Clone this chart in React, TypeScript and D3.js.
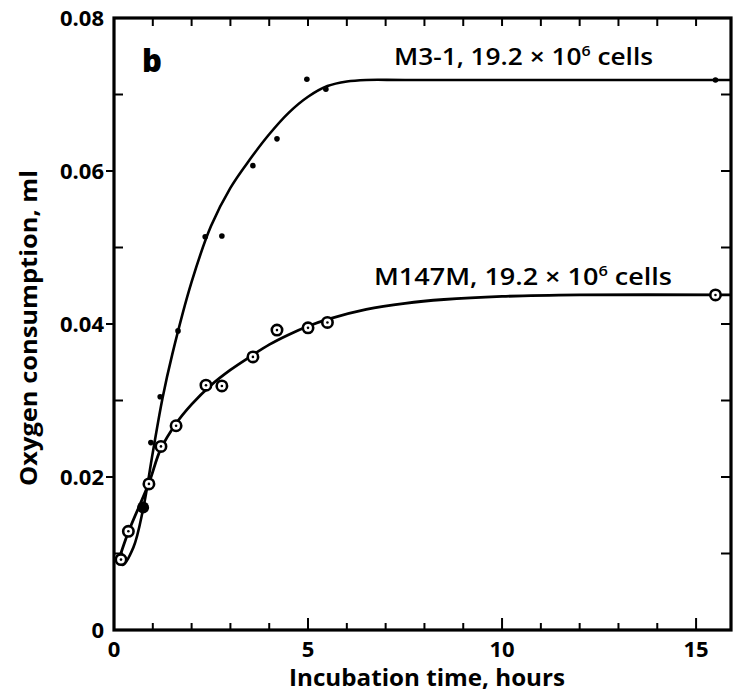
import React from "react";
import * as d3 from "d3";

// Observed data points (hours, ml)
const m31Hours = [0.2, 0.75, 0.95, 1.19, 1.65, 2.35, 2.78, 3.58, 4.2, 4.97, 5.46, 15.5];
const m31Values = [0.0088, 0.0160, 0.0245, 0.0305, 0.0391, 0.0514, 0.0515, 0.0607, 0.0642, 0.0720, 0.0707, 0.0719];

const m147Hours = [0.18, 0.37, 0.9, 1.21, 1.6, 2.37, 2.78, 3.58, 4.2, 5.0, 5.5, 15.5];
const m147Values = [0.0092, 0.0129, 0.0191, 0.0240, 0.0267, 0.0320, 0.0319, 0.0357, 0.0392, 0.0395, 0.0402, 0.0438];

// Hand-drawn fitted curves
const m31CurveHours = [0.08, 0.22, 0.5, 0.75, 1.0, 1.25, 1.5, 2.0, 2.5, 3.0, 3.5, 4.0, 4.5, 5.0, 5.5, 6.0, 6.5, 7.5, 15.9];
const m31CurveValues = [0.0098, 0.0085, 0.0108, 0.0158, 0.0232, 0.0303, 0.0360, 0.0455, 0.0528, 0.0578, 0.0615, 0.0648, 0.0676, 0.0697, 0.0711, 0.0717, 0.0719, 0.0719, 0.0719];

const m147CurveHours = [0.1, 0.37, 0.9, 1.2, 1.6, 2.0, 2.5, 3.0, 3.5, 4.0, 4.5, 5.0, 5.5, 6.5, 7.5, 8.5, 10, 12, 15.9];
const m147CurveValues = [0.0088, 0.0128, 0.0192, 0.0236, 0.0270, 0.0295, 0.0320, 0.0340, 0.0357, 0.0373, 0.0386, 0.0397, 0.0406, 0.0419, 0.0427, 0.0432, 0.0436, 0.0438, 0.0438];

const xTickLabels = [0, 5, 10, 15];
const yTickLabels = [0, 0.02, 0.04, 0.06, 0.08];
const xMinorTicks = d3.range(0, 16, 1);
const yMinorTicks = [0.01, 0.02, 0.03, 0.04, 0.05, 0.06, 0.07];

const FONT = "'Open Sans', 'DejaVu Sans', sans-serif";

export default function App() {
  const left = 114, right = 731, top = 18, bottom = 630;
  const x = d3.scaleLinear().domain([0, 15.9]).range([left, right]);
  const y = d3.scaleLinear().domain([0, 0.08]).range([bottom, top]);

  const line = d3
    .line<[number, number]>()
    .x((d) => x(d[0]))
    .y((d) => y(d[1]))
    .curve(d3.curveCatmullRom.alpha(0.5));

  const m31Curve = line(m31CurveHours.map((h, i) => [h, m31CurveValues[i]]) as [number, number][]) || "";
  const m147Curve = line(m147CurveHours.map((h, i) => [h, m147CurveValues[i]]) as [number, number][]) || "";

  const fmtY = (v: number) => (v === 0 ? "0" : v.toFixed(2));

  return (
    <svg
      width={736}
      height={696}
      style={{ position: "absolute", left: 0, top: 0, background: "#fff" }}
    >
      <rect x={0} y={0} width={736} height={696} fill="#fff" />
      {/* curves */}
      <path d={m31Curve} fill="none" stroke="#000" strokeWidth={2.6} />
      <path d={m147Curve} fill="none" stroke="#000" strokeWidth={2.8} />

      {/* frame */}
      <rect
        x={left}
        y={top}
        width={right - left}
        height={bottom - top}
        fill="none"
        stroke="#000"
        strokeWidth={3.2}
      />

      {/* top and bottom ticks */}
      {xMinorTicks.map((t) => (
        <g key={"xt" + t}>
          <line x1={x(t)} x2={x(t)} y1={top} y2={top + 8} stroke="#000" strokeWidth={2} />
          {t > 0 && (
            <line
              x1={x(t)}
              x2={x(t)}
              y1={bottom}
              y2={bottom - (t % 5 === 0 ? 12 : 7)}
              stroke="#000"
              strokeWidth={2}
            />
          )}
        </g>
      ))}

      {/* left and right ticks */}
      {yMinorTicks.map((v) => {
        const major = Math.abs((v * 100) % 2) < 1e-6;
        return (
          <g key={"yt" + v}>
            {major ? (
              <line x1={left - 8} x2={left} y1={y(v)} y2={y(v)} stroke="#000" strokeWidth={2} />
            ) : (
              <line x1={left} x2={left + 9} y1={y(v)} y2={y(v)} stroke="#000" strokeWidth={2} />
            )}
            <line x1={right - 10} x2={right} y1={y(v)} y2={y(v)} stroke="#000" strokeWidth={2} />
          </g>
        );
      })}

      {/* y tick labels */}
      {yTickLabels.map((v) => (
        <text
          key={"yl" + v}
          x={left - 10}
          y={y(v) + 8}
          textAnchor="end"
          fontFamily={FONT}
          fontWeight={700}
          fontSize={22}
          fill="#000"
        >
          {fmtY(v)}
        </text>
      ))}

      {/* x tick labels */}
      {xTickLabels.map((t) => (
        <text
          key={"xl" + t}
          x={x(t)}
          y={657}
          textAnchor="middle"
          fontFamily={FONT}
          fontWeight={700}
          fontSize={22}
          fill="#000"
        >
          {t}
        </text>
      ))}

      {/* axis titles */}
      <text
        x={427}
        y={686}
        textAnchor="middle"
        fontFamily={FONT}
        fontWeight={700}
        fontSize={23}
        fill="#000"
        textLength={276}
        lengthAdjust="spacingAndGlyphs"
      >
        Incubation time, hours
      </text>
      <text
        transform={`translate(37, 328) rotate(-90)`}
        textAnchor="middle"
        fontFamily={FONT}
        fontWeight={700}
        fontSize={23}
        fill="#000"
        textLength={316}
        lengthAdjust="spacingAndGlyphs"
      >
        Oxygen consumption, ml
      </text>

      {/* panel label */}
      <text x={142} y={72} fontFamily={FONT} fontWeight={800} fontSize={31} fill="#000">
        b
      </text>

      {/* series labels */}
      <text x={394} y={65} fontFamily={FONT} fontWeight={600} fontSize={23} fill="#000" textLength={259} lengthAdjust="spacingAndGlyphs">
        M3-1, 19.2 × 10<tspan dy={-9} fontSize={14}>6</tspan>
        <tspan dy={9}> cells</tspan>
      </text>
      <text x={374} y={285} fontFamily={FONT} fontWeight={600} fontSize={23} fill="#000" textLength={298} lengthAdjust="spacingAndGlyphs">
        M147M, 19.2 × 10<tspan dy={-9} fontSize={14}>6</tspan>
        <tspan dy={9}> cells</tspan>
      </text>

      {/* M3-1 filled points */}
      {m31Hours.map((h, i) => (
        <circle
          key={"a" + i}
          cx={x(h)}
          cy={y(m31Values[i])}
          r={h === 0.75 ? 6 : 2.8}
          fill="#000"
        />
      ))}

      {/* M147M open circles with central dot */}
      {m147Hours.map((h, i) => (
        <g key={"b" + i}>
          <circle cx={x(h)} cy={y(m147Values[i])} r={5.2} fill="#fff" stroke="#000" strokeWidth={2.6} />
          <circle cx={x(h)} cy={y(m147Values[i])} r={1.3} fill="#000" />
        </g>
      ))}
    </svg>
  );
}
